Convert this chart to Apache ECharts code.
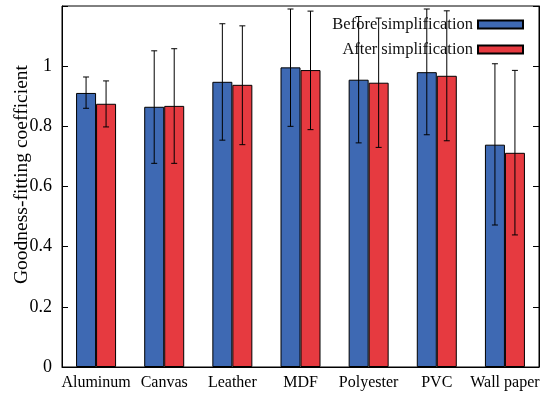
<!DOCTYPE html>
<html>
<head>
<meta charset="utf-8">
<script src="https://cdn.jsdelivr.net/npm/echarts@6/dist/echarts.min.js"></script>
<style>
  html, body { margin: 0; padding: 0; background: #fff; }
  #main { width: 547px; height: 396px; }
</style>
</head>
<body>
<div id="main"></div>
<script>
var materials = ['Aluminum', 'Canvas', 'Leather', 'MDF', 'Polyester', 'PVC', 'Wall paper'];
var before = [0.911, 0.865, 0.948, 0.996, 0.955, 0.980, 0.739];
var beforeLow = [0.860, 0.677, 0.754, 0.800, 0.745, 0.772, 0.472];
var beforeHigh = [0.964, 1.051, 1.141, 1.190, 1.165, 1.190, 1.008];
var after = [0.875, 0.868, 0.938, 0.987, 0.945, 0.968, 0.712];
var afterLow = [0.798, 0.677, 0.739, 0.789, 0.730, 0.752, 0.439];
var afterHigh = [0.951, 1.058, 1.134, 1.183, 1.160, 1.184, 0.986];

var myChart = echarts.init(document.getElementById('main'));
var colors = ['#3e69b3', '#e63a40'];
var serif = 'Liberation Serif';

function errorBars(low, high, shift) {
    var data = low.map(function (v, i) { return [i, v, high[i]]; });
    return {
        type: 'custom',
        data: data,
        z: 10,
        silent: true,
        renderItem: function (params, api) {
            var top = api.coord([api.value(0), api.value(2)]);
            var bot = api.coord([api.value(0), api.value(1)]);
            var x = top[0] + shift;
            var cap = 3;
            var st = { stroke: '#000', lineWidth: 1 };
            return {
                type: 'group',
                children: [
                    { type: 'line', shape: { x1: x, y1: top[1], x2: x, y2: bot[1] }, style: st },
                    { type: 'line', shape: { x1: x - cap, y1: top[1], x2: x + cap, y2: top[1] }, style: st },
                    { type: 'line', shape: { x1: x - cap, y1: bot[1], x2: x + cap, y2: bot[1] }, style: st }
                ]
            };
        }
    };
}

var option = {
    animation: false,
    color: colors,
    grid: {
        left: 62, right: 8, top: 6, bottom: 29,
        outerBoundsMode: 'none',
        containLabel: false,
        show: true, borderColor: '#000', borderWidth: 1
    },
    legend: {
        orient: 'vertical',
        right: 18,
        top: 11,
        align: 'right',
        itemWidth: 45,
        itemHeight: 8,
        itemGap: 8,
        icon: 'rect',
        textStyle: { fontFamily: serif, fontSize: 16.5, color: '#111' },
        data: ['Before simplification', 'After simplification']
    },
    xAxis: {
        type: 'category',
        data: materials,
        axisLine: { lineStyle: { color: '#000' } },
        axisTick: { show: false },
        axisLabel: { fontFamily: serif, fontSize: 16, color: '#000', margin: 8, interval: 0 }
    },
    yAxis: [{
        type: 'value',
        min: 0, max: 1.2, interval: 0.2,
        name: 'Goodness-fitting coefficient',
        nameLocation: 'middle',
        nameGap: 30,
        nameMoveOverlap: false,
        nameTextStyle: { fontFamily: serif, fontSize: 19.5, color: '#000', padding: [0, 0, 0, 24] },
        axisLine: { show: true, lineStyle: { color: '#000' } },
        axisTick: { show: true, inside: true, length: 6, lineStyle: { color: '#000' } },
        splitLine: { show: false },
        axisLabel: {
            fontFamily: serif, fontSize: 18, color: '#000', margin: 10,
            formatter: function (v) { return v > 1.1 ? '' : String(+v.toFixed(1)); }
        }
    }, {
        type: 'value',
        position: 'right',
        min: 0, max: 1.2, interval: 0.2,
        axisLine: { show: true, lineStyle: { color: '#000' } },
        axisTick: { show: true, inside: true, length: 6, lineStyle: { color: '#000' } },
        splitLine: { show: false },
        axisLabel: { show: false }
    }],
    series: [{
        name: 'Before simplification',
        type: 'bar',
        barWidth: 20,
        barGap: '0%',
        data: before,
        itemStyle: { color: colors[0], borderColor: '#000', borderWidth: 1 }
    }, {
        name: 'After simplification',
        type: 'bar',
        barWidth: 20,
        barGap: '0%',
        data: after,
        itemStyle: { color: colors[1], borderColor: '#000', borderWidth: 1 }
    },
    errorBars(beforeLow, beforeHigh, -10),
    errorBars(afterLow, afterHigh, 10)
    ]
};

myChart.setOption(option);
</script>
</body>
</html>
